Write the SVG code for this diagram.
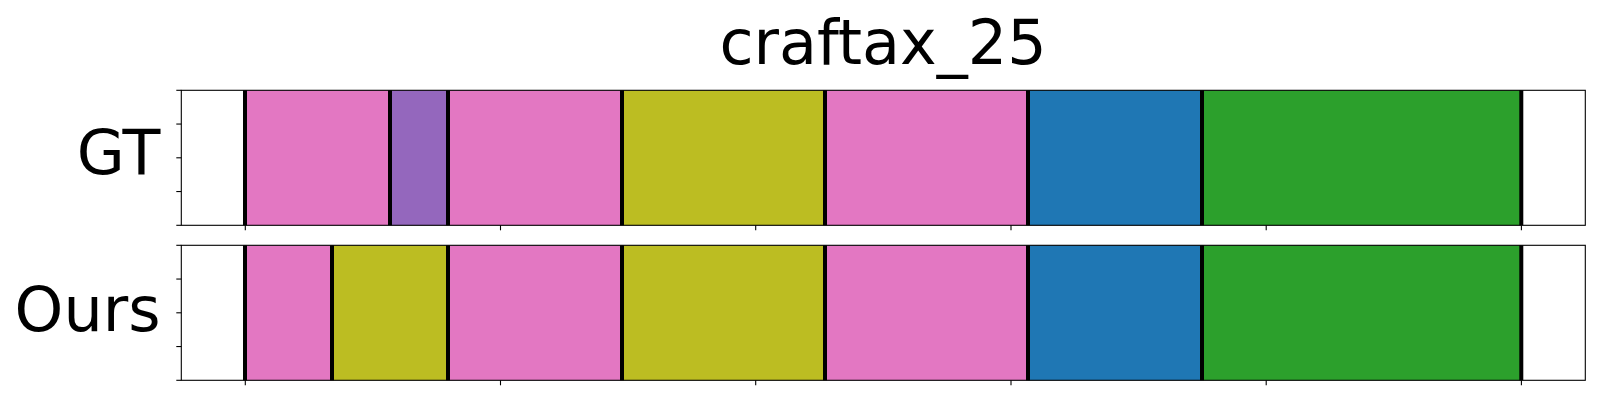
<svg xmlns="http://www.w3.org/2000/svg" width="1600" height="400" viewBox="0 0 1600 400">
<style>
.t{font-family:"DejaVu Sans",sans-serif;fill:#000}
.pk{fill:#e377c2}.pu{fill:#9467bd}.ol{fill:#bcbd22}.bl{fill:#1f77b4}.gr{fill:#2ca02c}
.frame{fill:none;stroke:#000;stroke-width:1.1}
.tick{stroke:#000;stroke-width:1.1}
.sep{stroke:#000;stroke-width:4}
</style>
<rect width="1600" height="400" fill="#fff"/>
<text class="t" x="883" y="63.5" font-size="62" text-anchor="middle">craftax_25</text>
<g id="gt">
<text class="t" x="160.5" y="174.3" font-size="62" text-anchor="end">GT</text>
<rect class="pk" x="245" y="90.3" width="145" height="135"/>
<rect class="pu" x="390" y="90.3" width="58" height="135"/>
<rect class="pk" x="448" y="90.3" width="174" height="135"/>
<rect class="ol" x="622" y="90.3" width="203" height="135"/>
<rect class="pk" x="825" y="90.3" width="203" height="135"/>
<rect class="bl" x="1028" y="90.3" width="174" height="135"/>
<rect class="gr" x="1202" y="90.3" width="319.3" height="135"/>
<g class="sep">
<line x1="245" y1="90.3" x2="245" y2="225.3"/>
<line x1="390" y1="90.3" x2="390" y2="225.3"/>
<line x1="448" y1="90.3" x2="448" y2="225.3"/>
<line x1="622" y1="90.3" x2="622" y2="225.3"/>
<line x1="825" y1="90.3" x2="825" y2="225.3"/>
<line x1="1028" y1="90.3" x2="1028" y2="225.3"/>
<line x1="1202" y1="90.3" x2="1202" y2="225.3"/>
<line x1="1521.3" y1="90.3" x2="1521.3" y2="225.3"/>
</g>
<rect class="frame" x="181.3" y="90.3" width="1404" height="135"/>
<g class="tick">
<line x1="176.3" y1="90.3" x2="181.3" y2="90.3"/>
<line x1="176.3" y1="124.05" x2="181.3" y2="124.05"/>
<line x1="176.3" y1="157.8" x2="181.3" y2="157.8"/>
<line x1="176.3" y1="191.55" x2="181.3" y2="191.55"/>
<line x1="176.3" y1="225.3" x2="181.3" y2="225.3"/>
<line x1="245.3" y1="225.3" x2="245.3" y2="230.3"/>
<line x1="500.5" y1="225.3" x2="500.5" y2="230.3"/>
<line x1="755.7" y1="225.3" x2="755.7" y2="230.3"/>
<line x1="1011" y1="225.3" x2="1011" y2="230.3"/>
<line x1="1266.2" y1="225.3" x2="1266.2" y2="230.3"/>
<line x1="1521.4" y1="225.3" x2="1521.4" y2="230.3"/>
</g>
</g>
<g id="ours">
<text class="t" x="160.5" y="331" font-size="62" text-anchor="end">Ours</text>
<rect class="pk" x="245" y="245.3" width="87" height="135"/>
<rect class="ol" x="332" y="245.3" width="116" height="135"/>
<rect class="pk" x="448" y="245.3" width="174" height="135"/>
<rect class="ol" x="622" y="245.3" width="203" height="135"/>
<rect class="pk" x="825" y="245.3" width="203" height="135"/>
<rect class="bl" x="1028" y="245.3" width="174" height="135"/>
<rect class="gr" x="1202" y="245.3" width="319.3" height="135"/>
<g class="sep">
<line x1="245" y1="245.3" x2="245" y2="380.3"/>
<line x1="332" y1="245.3" x2="332" y2="380.3"/>
<line x1="448" y1="245.3" x2="448" y2="380.3"/>
<line x1="622" y1="245.3" x2="622" y2="380.3"/>
<line x1="825" y1="245.3" x2="825" y2="380.3"/>
<line x1="1028" y1="245.3" x2="1028" y2="380.3"/>
<line x1="1202" y1="245.3" x2="1202" y2="380.3"/>
<line x1="1521.3" y1="245.3" x2="1521.3" y2="380.3"/>
</g>
<rect class="frame" x="181.3" y="245.3" width="1404" height="135"/>
<g class="tick">
<line x1="176.3" y1="245.3" x2="181.3" y2="245.3"/>
<line x1="176.3" y1="279.05" x2="181.3" y2="279.05"/>
<line x1="176.3" y1="312.8" x2="181.3" y2="312.8"/>
<line x1="176.3" y1="346.55" x2="181.3" y2="346.55"/>
<line x1="176.3" y1="380.3" x2="181.3" y2="380.3"/>
<line x1="245.3" y1="380.3" x2="245.3" y2="385.3"/>
<line x1="500.5" y1="380.3" x2="500.5" y2="385.3"/>
<line x1="755.7" y1="380.3" x2="755.7" y2="385.3"/>
<line x1="1011" y1="380.3" x2="1011" y2="385.3"/>
<line x1="1266.2" y1="380.3" x2="1266.2" y2="385.3"/>
<line x1="1521.4" y1="380.3" x2="1521.4" y2="385.3"/>
</g>
</g>
</svg>
